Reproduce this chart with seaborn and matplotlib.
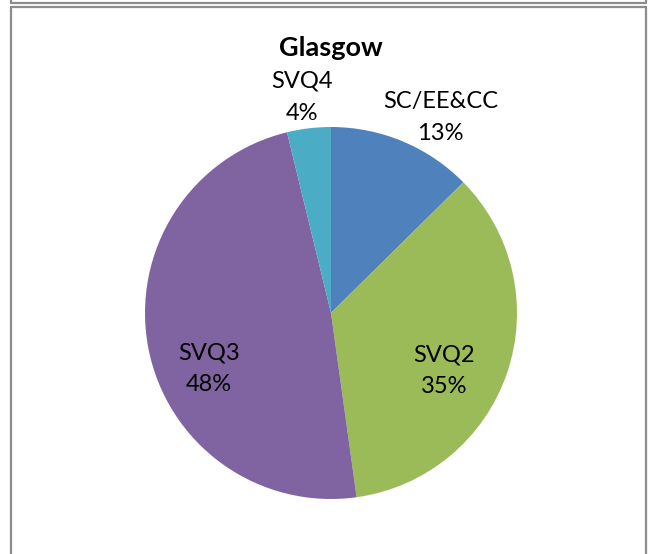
import matplotlib
matplotlib.use("Agg")
import matplotlib.pyplot as plt
import seaborn as sns
from matplotlib.lines import Line2D

# slice data, clockwise from 12 o'clock
categories = ["SC/EE&CC", "SVQ2", "SVQ3", "SVQ4"]
shares = [12.6, 35.2, 48.4, 3.8]
colours = ["#4F81BD", "#9BBB59", "#8064A2", "#4BACC6"]
title = "Glasgow"

# label centres in axes data units (pie radius = 1)
label_pos = [(0.59, 1.05), (0.61, -0.31), (-0.655, -0.30), (-0.155, 1.16)]

sns.set_theme(style="white")
plt.rcParams['font.family'] = ['Lato', 'DejaVu Sans']

W, H = 651, 554
fig = plt.figure(figsize=(W / 100, H / 100), dpi=100)

# pie centre (331, 313) px, radius 186 px
cx, cy, r = 331, 313, 186
ax = fig.add_axes([(cx - r) / W, (H - cy - r) / H, 2 * r / W, 2 * r / H])
ax.pie(shares, colors=colours, startangle=90, counterclock=False,
       radius=1, wedgeprops=dict(linewidth=0))
ax.set_xlim(-1, 1)
ax.set_ylim(-1, 1)
ax.set_aspect("equal")
ax.axis("off")

total = sum(shares)
for name, val, (x, y) in zip(categories, shares, label_pos):
    ax.text(x, y, f"{name}\n{round(val / total * 100):.0f}%", ha="center", va="center",
            fontsize=17, linespacing=1.65, color="#000000", clip_on=False)

fig.text(cx / W, 1 - 48 / H, title, ha="center", va="center",
         fontsize=19.5, fontweight="bold", color="#000000")

# chart frame lines (Excel-style border)
grey = "#8c8c8c"
lx, rx = 11 / W, 646 / W
fig.add_artist(Line2D([lx, rx], [1 - 2.5 / H] * 2, transform=fig.transFigure, color=grey, lw=1.6))
fig.add_artist(Line2D([lx, rx], [1 - 7 / H] * 2, transform=fig.transFigure, color=grey, lw=1.6))
fig.add_artist(Line2D([lx] * 2, [0, 1 - 7 / H], transform=fig.transFigure, color=grey, lw=1.6))
fig.add_artist(Line2D([rx] * 2, [0, 1 - 7 / H], transform=fig.transFigure, color=grey, lw=1.6))
fig.add_artist(Line2D([lx] * 2, [1 - 2.5 / H, 1], transform=fig.transFigure, color=grey, lw=1.6))
fig.add_artist(Line2D([rx] * 2, [1 - 2.5 / H, 1], transform=fig.transFigure, color=grey, lw=1.6))

fig.savefig("out.png", dpi=100, facecolor="white")
